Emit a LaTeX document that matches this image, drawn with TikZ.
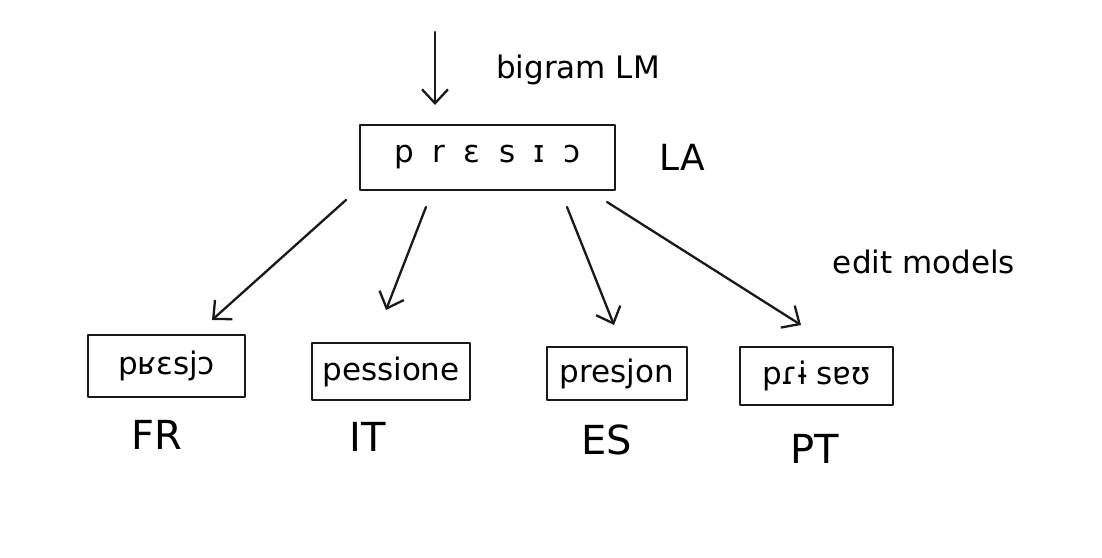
\documentclass[tikz,border=0pt]{standalone}
\usepackage{fontspec}
\setmainfont{DejaVu Sans}
\usetikzlibrary{arrows.meta}
\newcommand{\fs}[1]{\fontsize{#1}{#1}\selectfont}
\begin{document}
\begin{tikzpicture}[x=1pt,y=-1pt,
  ink/.style={line width=2.3pt,line cap=round,line join=round,draw=black!90},
  wordbox/.style={ink,rectangle,inner sep=0pt,font=\fs{31}},
  lbl/.style={font=\fs{40},inner sep=0pt},
  note/.style={font=\fs{31},inner sep=0pt,anchor=base},
  arr/.style={ink,-{Straight Barb[length=14pt,width=26pt,line width=2.3pt]}}]
\useasboundingbox (0,0) rectangle (1102,557);
\fill[white] (0,0) rectangle (1102,557);
% top word
\node[wordbox,minimum width=255pt,minimum height=65pt] (la) at (487.5,157.5)
  {p\hspace{0.6em}r\hspace{0.6em}ɛ\hspace{0.6em}s\hspace{0.6em}ɪ\hspace{0.6em}ɔ};
\node[lbl,font=\fs{36}] (lalbl) at (682,157) {LA};
% input arrow
\coordinate (in0) at (435,32);
\coordinate (in1) at (435,105);
\draw[arr] (in0) -- (in1);
\node[note] (bigram) at (578,78) {bigram LM};
% daughters
\node[wordbox,minimum width=157pt,minimum height=62pt] (fr) at (166.5,366) {pʁɛsjɔ};
\node[wordbox,minimum width=158pt,minimum height=57pt] (it) at (391,371.5) {pessione};
\node[wordbox,minimum width=140pt,minimum height=53pt] (es) at (617,373.5) {presjon};
\node[wordbox,minimum width=153pt,minimum height=58pt] (pt) at (816.5,376) {pɾɨ sɐʊ};
\node[lbl] (frl) at (157,435) {FR};
\node[lbl] (itl) at (368,437) {IT};
\node[lbl] (esl) at (607,440) {ES};
\node[lbl] (ptl) at (815,449) {PT};
% edit arrows
\coordinate (a1s) at (346,200); \coordinate (a1e) at (212,320);
\coordinate (a2s) at (426,207); \coordinate (a2e) at (386,310);
\coordinate (a3s) at (567,207); \coordinate (a3e) at (614,325);
\coordinate (a4s) at (607,202); \coordinate (a4e) at (801,325);
\draw[arr] (a1s) -- (a1e);
\draw[arr] (a2s) -- (a2e);
\draw[arr] (a3s) -- (a3e);
\draw[arr] (a4s) -- (a4e);
\node[note] (edit) at (924,273) {edit models};
\end{tikzpicture}
\end{document}
